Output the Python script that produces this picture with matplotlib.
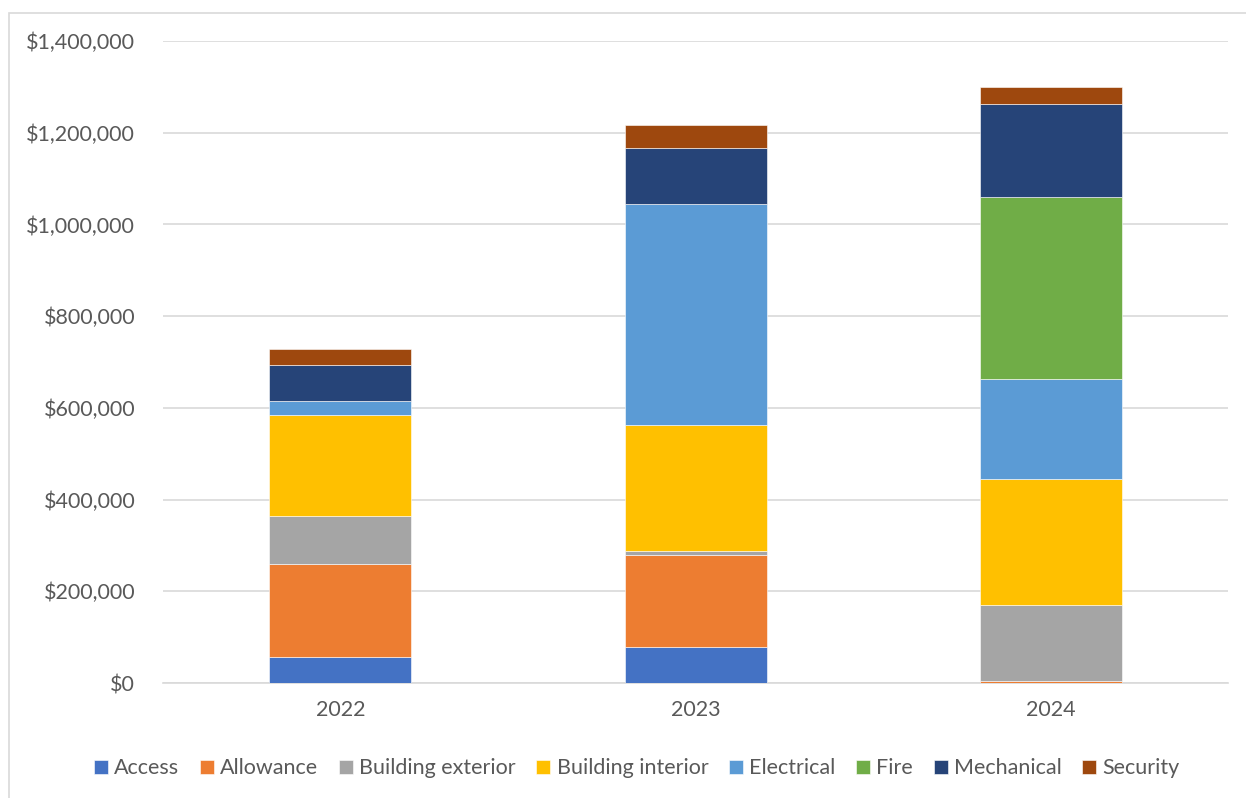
import matplotlib
matplotlib.use("Agg")
import matplotlib.pyplot as plt
from matplotlib.patches import Rectangle
from matplotlib.ticker import FuncFormatter

years = ["2022", "2023", "2024"]
categories = ["Access", "Allowance", "Building exterior", "Building interior",
              "Electrical", "Fire", "Mechanical", "Security"]
colors = ["#4472C4", "#ED7D31", "#A5A5A5", "#FFC000",
          "#5B9BD5", "#70AD47", "#264478", "#9E480E"]

access = [57000, 78000, 0]
allowance = [202000, 201000, 4000]
building_exterior = [105000, 9000, 166000]
building_interior = [220000, 275000, 275000]
electrical = [31000, 482000, 218000]
fire = [0, 0, 397000]
mechanical = [78000, 122000, 203000]
security = [35000, 50000, 37000]

series = [access, allowance, building_exterior, building_interior,
          electrical, fire, mechanical, security]

plt.rcParams['font.family'] = ['Lato', 'DejaVu Sans']
text_color = "#595959"

fig = plt.figure(figsize=(12.46, 7.98), dpi=100)
ax = fig.add_axes([0.1308, 0.1441, 0.8548, 0.8045])

x = range(len(years))
bottom = [0, 0, 0]
for name, vals, c in zip(categories, series, colors):
    ax.bar(x, vals, width=0.4, bottom=bottom, color=c, label=name,
           edgecolor="white", linewidth=0.4, zorder=3)
    bottom = [b + v for b, v in zip(bottom, vals)]

ax.set_xlim(-0.5, 2.5)
ax.set_ylim(0, 1400000)
ax.set_yticks(range(0, 1400001, 200000))
ax.yaxis.set_major_formatter(FuncFormatter(lambda v, p: f"${v:,.0f}"))
ax.set_xticks(list(x))
ax.set_xticklabels(years)
ax.grid(axis="y", color="#D9D9D9", linewidth=1.2, zorder=0)
for s in ["top", "right", "left"]:
    ax.spines[s].set_visible(False)
ax.spines["bottom"].set_color("#D9D9D9")
ax.spines["bottom"].set_linewidth(1.2)
ax.tick_params(length=0, labelsize=15.5, colors=text_color)
ax.tick_params(axis="y", pad=20)
ax.tick_params(axis="x", pad=12)

leg = fig.legend(loc="center", bbox_to_anchor=(0.511, 0.037), ncol=8,
                 frameon=False, fontsize=15.5, handlelength=0.65, handleheight=0.65,
                 handletextpad=0.3, columnspacing=0.95)
for t in leg.get_texts():
    t.set_color(text_color)

fig.patches.append(Rectangle((0.0072, -0.01), 1.0, 0.994, transform=fig.transFigure,
                             fill=False, edgecolor="#D9D9D9", linewidth=1.2))

fig.savefig("out.png", dpi=100)
